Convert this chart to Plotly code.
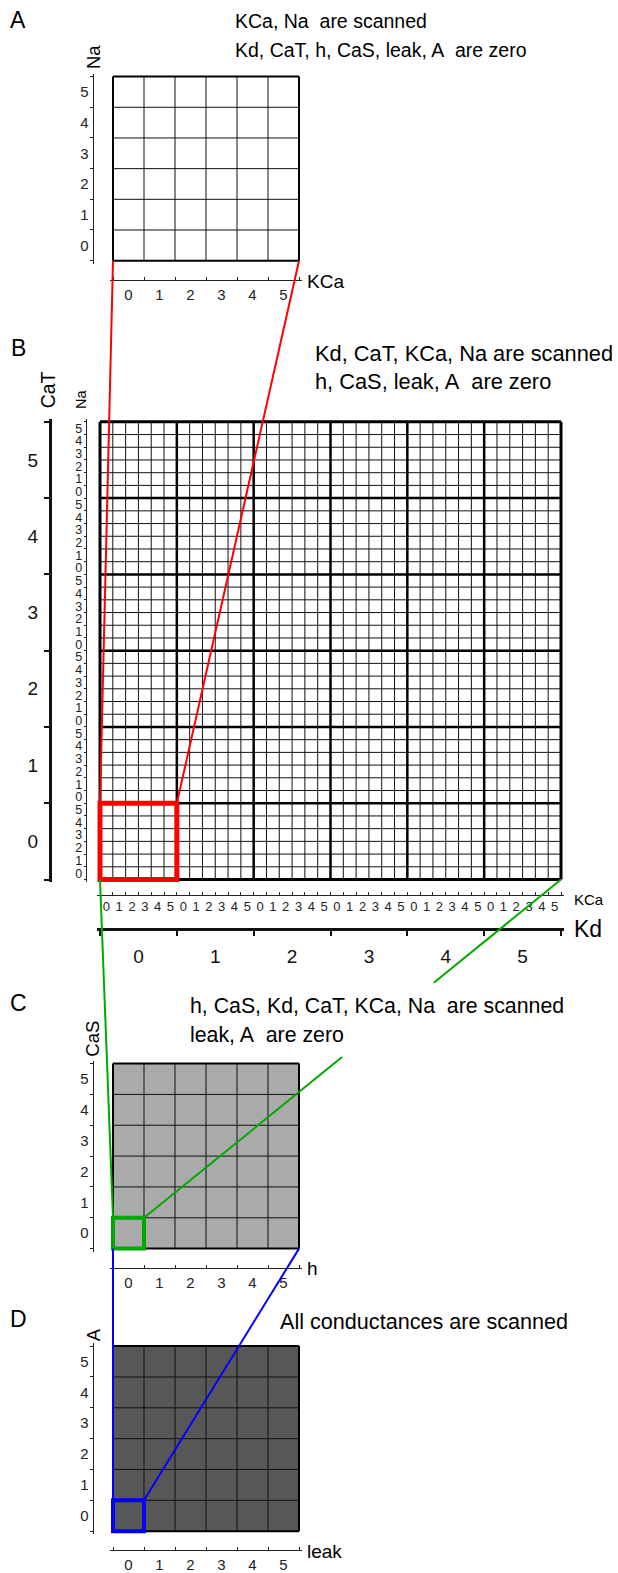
import numpy as np
import plotly.graph_objects as go

W, H = 618, 1573
FONT = "Liberation Sans, Arial, Helvetica, sans-serif"

# conductance levels scanned on every axis
levels = [0, 1, 2, 3, 4, 5]
level_labels = ["0", "1", "2", "3", "4", "5"]

# axis names for each panel (inner x / inner y)
x_names = {"A": "KCa", "B": "KCa", "C": "h", "D": "leak"}
y_names = {"A": "Na", "B": "Na", "C": "CaS", "D": "A"}
outer_x_name = "Kd"
outer_y_name = "CaT"

cell_fill = {"A": "#ffffff", "B": "#ffffff", "C": "#aaaaaa", "D": "#575757"}

titles = {
    "A": ["KCa, Na\u00a0 are scanned", "Kd, CaT, h, CaS, leak, A\u00a0 are zero"],
    "B": ["Kd, CaT, KCa, Na are scanned", "h, CaS, leak, A\u00a0 are zero"],
    "C": ["h, CaS, Kd, CaT, KCa, Na\u00a0 are scanned", "leak, A\u00a0 are zero"],
    "D": ["All conductances are scanned"],
}

# ---- layout geometry (pixels) ----
grid_px = {"A": (113, 77, 299, 262), "B": (100, 424, 561, 884),
           "C": (113, 1069, 299, 1255), "D": (113, 1353, 299, 1539)}
x_line_py = {"A": 281.7, "B": 899.3, "C": 1274.4, "D": 1558.4}
y_line_px = {"A": 92.7, "B": 85.7, "C": 92.7, "D": 92.7}
kd_line_py = 933.3
cat_line_px = 50
PAD = 3
axis_ids = {"A": ("x", "y", ""), "B": ("x2", "y2", "2"), "C": ("x3", "y3", "3"), "D": ("x4", "y4", "4")}

n_side = len(levels)
n_cells = {"A": n_side, "B": n_side * n_side, "C": n_side, "D": n_side}


def paper(px, py):
    return px / W, 1 - py / H


def corner(p, cx, cy):
    x0, y0, x1, y1 = grid_px[p]
    n = n_cells[p]
    cw, ch = (x1 - x0) / n, (y1 - y0) / n
    return paper(x0 + (cx + 0.5) * cw, y1 - (cy + 0.5) * ch)


def lines_at(bounds, lo, hi):
    xs, ys = [], []
    for v in bounds:
        xs += [v, v, None]
        ys += [lo, hi, None]
        xs += [lo, hi, None]
        ys += [v, v, None]
    return xs, ys


fig = go.Figure()

for p in ["A", "B", "C", "D"]:
    xa, ya, _ = axis_ids[p]
    n = n_cells[p]
    idx = np.arange(n)
    fill = cell_fill[p]
    fig.add_trace(go.Heatmap(z=np.zeros((n, n)), x=idx, y=idx, zmin=0, zmax=1,
                             colorscale=[[0, fill], [1, fill]], showscale=False,
                             hoverinfo="skip", xaxis=xa, yaxis=ya))
    inner = np.arange(1, n) - 0.5
    xs, ys = lines_at(inner, -0.5, n - 0.5)
    fig.add_trace(go.Scatter(x=xs, y=ys, mode="lines", hoverinfo="skip", showlegend=False,
                             line=dict(color="#111111", width=1), xaxis=xa, yaxis=ya))
    if p != "B":
        xs, ys = lines_at([-0.5, n - 0.5], -0.5, n - 0.5)
        fig.add_trace(go.Scatter(x=xs, y=ys, mode="lines", hoverinfo="skip", showlegend=False,
                                 line=dict(color="#000000", width=2), xaxis=xa, yaxis=ya))

# Kd / CaT blocks of panel B
xs, ys = lines_at(np.arange(1, n_side) - 0.5, -0.5, n_side - 0.5)
fig.add_trace(go.Scatter(x=xs, y=ys, mode="lines", hoverinfo="skip", showlegend=False,
                         line=dict(color="#000000", width=2.5), xaxis="x5", yaxis="y5"))
xs, ys = lines_at([-0.5, n_side - 0.5], -0.5, n_side - 0.5)
fig.add_trace(go.Scatter(x=xs, y=ys, mode="lines", hoverinfo="skip", showlegend=False,
                         line=dict(color="#000000", width=3), xaxis="x5", yaxis="y5"))

layout = dict(width=W, height=H, autosize=False, margin=dict(l=0, r=0, t=0, b=0),
              paper_bgcolor="white", plot_bgcolor="rgba(0,0,0,0)", showlegend=False,
              font=dict(family=FONT, color="#000000"))


def axis_common():
    return dict(showgrid=False, zeroline=False, fixedrange=True, showline=True,
                linecolor="#222222", ticks="", tickcolor="#222222")


for p in ["A", "B", "C", "D"]:
    xa, ya, sfx = axis_ids[p]
    x0, y0, x1, y1 = grid_px[p]
    n = n_cells[p]
    cw, ch = (x1 - x0) / n, (y1 - y0) / n
    bounds = list(np.arange(n + 1) - 0.5)
    labels = level_labels * (n // n_side)
    small = p == "B"
    xax = axis_common()
    xax.update(domain=[(x0 - PAD) / W, (x1 + PAD) / W],
               range=[-0.5 - PAD / cw, n - 0.5 + PAD / cw],
               anchor="free", position=1 - x_line_py[p] / H, linewidth=1,
               tickvals=list(range(n)), ticktext=labels,
               tickfont=dict(size=13 if small else 15, color="#222222"),
               ticklabelstandoff=0 if small else 1,
               minor=dict(tickvals=bounds, ticks="inside", ticklen=3, tickwidth=1, tickcolor="#222222"))
    yax = axis_common()
    yax.update(domain=[1 - (y1 + PAD) / H, 1 - (y0 - PAD) / H],
               range=[-0.5 - PAD / ch, n - 0.5 + PAD / ch],
               anchor="free", position=y_line_px[p] / W, linewidth=1,
               tickvals=list(range(n)), ticktext=labels,
               tickfont=dict(size=12.5 if small else 15, color="#222222"),
               ticklabelstandoff=1,
               minor=dict(tickvals=bounds, ticks="outside", ticklen=2 if small else 3,
                          tickwidth=1, tickcolor="#222222"))
    layout["xaxis" + sfx] = xax
    layout["yaxis" + sfx] = yax

# outer Kd / CaT axes of panel B
bx0, by0, bx1, by1 = grid_px["B"]
bw, bh = (bx1 - bx0) / n_side, (by1 - by0) / n_side
big_bounds = list(np.arange(n_side + 1) - 0.5)
layout["xaxis5"] = dict(axis_common(), overlaying="x2", anchor="free", position=1 - kd_line_py / H,
                        range=[-0.5 - PAD / bw, n_side - 0.5 + PAD / bw], linewidth=3, linecolor="#111111",
                        tickvals=levels, ticktext=level_labels, tickfont=dict(size=19, color="#111111"),
                        ticklabelstandoff=10,
                        minor=dict(tickvals=big_bounds, ticks="outside", ticklen=5, tickwidth=1.5,
                                   tickcolor="#111111"))
layout["yaxis5"] = dict(axis_common(), overlaying="y2", anchor="free", position=cat_line_px / W,
                        range=[-0.5 - PAD / bh, n_side - 0.5 + PAD / bh], linewidth=3, linecolor="#111111",
                        tickvals=levels, ticktext=level_labels, tickfont=dict(size=19, color="#111111"),
                        ticklabelstandoff=7,
                        minor=dict(tickvals=big_bounds, ticks="outside", ticklen=5, tickwidth=1.5,
                                   tickcolor="#111111"))

shapes = []


def seg(a, b, color, width):
    shapes.append(dict(type="line", xref="paper", yref="paper", x0=a[0], y0=a[1], x1=b[0], y1=b[1],
                       line=dict(color=color, width=width), layer="above"))


RED, GREEN, BLUE = "#ff0000", "#00aa00", "#0000ff"
top_cell = n_side - 0.5
# highlighted sub-grids
shapes.append(dict(type="rect", xref="x5", yref="y5", x0=-0.5, x1=0.5, y0=-0.5, y1=0.5,
                   line=dict(color=RED, width=5), layer="above"))
shapes.append(dict(type="rect", xref="x3", yref="y3", x0=-0.5, x1=0.5, y0=-0.5, y1=0.5,
                   line=dict(color=GREEN, width=4), layer="above"))
shapes.append(dict(type="rect", xref="x4", yref="y4", x0=-0.5, x1=0.5, y0=-0.5, y1=0.5,
                   line=dict(color=BLUE, width=4), layer="above"))

# zoom connectors (the long green one is interrupted by the panel C heading)
seg(corner("A", -0.5, -0.5), corner("B", -0.5, top_cell), RED, 2)
seg(corner("A", top_cell, -0.5), corner("B", top_cell, top_cell), RED, 2)
seg(corner("B", -0.5, -0.5), corner("C", -0.5, 0.5), GREEN, 2)
g0, g1 = np.array(corner("B", n_cells["B"] - 0.5, -0.5)), np.array(corner("C", 0.5, 0.5))
for t0, t1 in [(0.0, 0.305), (0.525, 1.0)]:
    seg(g0 + (g1 - g0) * t0, g0 + (g1 - g0) * t1, GREEN, 2)
seg(corner("C", -0.5, -0.5), corner("D", -0.5, 0.5), BLUE, 2)
seg(corner("C", top_cell, -0.5), corner("D", 0.5, 0.5), BLUE, 2)

annotations = []


def text(s, px, py, size, xanchor="left", angle=0, color="#000000"):
    x, y = paper(px, py)
    annotations.append(dict(text=s, x=x, y=y, xref="paper", yref="paper", showarrow=False,
                            xanchor=xanchor, yanchor="middle", textangle=angle,
                            font=dict(size=size, color=color, family=FONT)))


# panel letters
for p, py in zip(["A", "B", "C", "D"], [20, 350, 1008, 1326]):
    text(p, 18, py, 23, xanchor="center")

# panel headings
for p, (px, py0, dy, size) in {"A": (233, 21, 29, 19.5), "B": (313, 355, 28, 21.8),
                               "C": (187.7, 1011, 29, 21.3), "D": (278, 1328, 29, 21.6)}.items():
    for i, line in enumerate(titles[p]):
        text(line, px, py0 + i * dy, size)

# axis names
text(y_names["A"], 93.3, 57, 18.5, xanchor="center", angle=-90)
text(x_names["A"], 305, 283, 19)
text(outer_y_name, 48.3, 392, 19.5, xanchor="center", angle=-90)
text(y_names["B"], 81, 402, 14.5, xanchor="center", angle=-90)
text(x_names["B"], 571.5, 904, 15)
text(outer_x_name, 571.5, 934, 23)
text(y_names["C"], 93, 1044, 18.5, xanchor="center", angle=-90)
text(x_names["C"], 305, 1275, 19)
text(y_names["D"], 93, 1342, 18.5, xanchor="center", angle=-90)
text(x_names["D"], 305, 1559, 19)

layout["shapes"] = shapes
layout["annotations"] = annotations
fig.update_layout(**layout)
fig.write_html("out.html")
